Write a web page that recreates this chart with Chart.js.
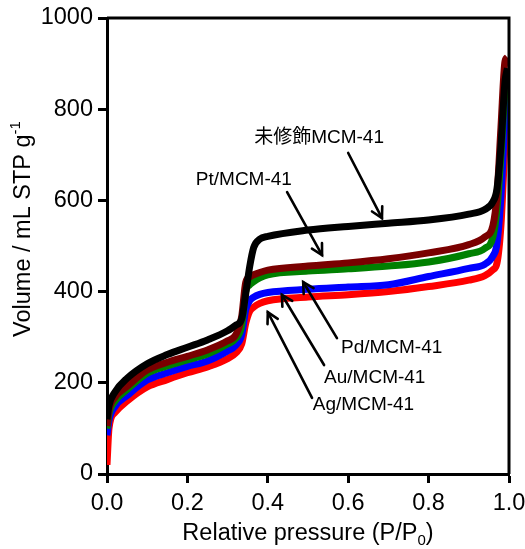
<!DOCTYPE html>
<html><head><meta charset="utf-8">
<script src="https://cdn.jsdelivr.net/npm/chart.js@4.4.1/dist/chart.umd.min.js"></script>
<style>html,body{margin:0;padding:0;background:#fff}#wrap{width:525px;height:549px}</style>
</head><body><div id="wrap"><canvas id="c" width="525" height="549"></canvas></div>
<script>
// Relative pressure P/P0 (shared grid)
const pressure = [0.0, 0.005, 0.02, 0.05, 0.1, 0.15, 0.2, 0.25, 0.3, 0.32, 0.335, 0.345, 0.355, 0.365, 0.38, 0.4, 0.5, 0.6, 0.7, 0.8, 0.9, 0.94, 0.96, 0.97, 0.98, 0.99, 0.996];
// Adsorbed volume (mL STP g-1)
const unmodified = [120, 150, 180, 210, 242, 262, 278, 294, 314, 326, 340, 395, 455, 497, 515, 521, 535, 543, 550, 557, 570, 580, 597, 625, 720, 860, 890];
const ptMCM = [105, 140, 168, 192, 228, 245, 258, 272, 292, 305, 345, 420, 432, 437, 442, 447, 456, 463, 472, 485, 503, 520, 545, 610, 760, 905, 914];
const pdMCM = [100, 132, 160, 185, 221, 237, 250, 263, 285, 297, 325, 400, 415, 422, 430, 437, 445, 450, 456, 465, 483, 495, 520, 580, 700, 840, 881];
const auMCM = [85, 118, 148, 172, 206, 222, 236, 248, 270, 282, 305, 360, 380, 388, 394, 398, 405, 410, 415, 433, 451, 460, 478, 505, 610, 780, 860];
const agMCM = [20, 100, 135, 160, 191, 207, 222, 235, 253, 265, 285, 330, 357, 366, 374, 380, 388, 393, 400, 411, 425, 435, 448, 462, 545, 720, 792];
const xTicks = [0.0, 0.2, 0.4, 0.6, 0.8, 1.0];
const yTicks = [0, 200, 400, 600, 800, 1000];
// Annotation labels: text, label x, label y, arrow tail x,y, arrow tip x,y (data units)
const labelTexts = ['未修飾MCM-41', 'Pt/MCM-41', 'Pd/MCM-41', 'Au/MCM-41', 'Ag/MCM-41'];
const labelX = [0.366, 0.221, 0.582, 0.540, 0.512];
const labelY = [737, 645, 276, 211, 151];
const arrowFromX = [0.600, 0.448, 0.572, 0.540, 0.510];
const arrowFromY = [704, 618, 298, 239, 167];
const arrowToX = [0.684, 0.535, 0.488, 0.435, 0.400];
const arrowToY = [561, 480, 421, 393, 355];

const FONT = '"Liberation Sans", Arial, "Noto Sans CJK JP", sans-serif';
const series = [
  {name:'未修飾MCM-41', v:unmodified, c:'#000000'},
  {name:'Pt/MCM-41', v:ptMCM, c:'#7a0000'},
  {name:'Pd/MCM-41', v:pdMCM, c:'#008000'},
  {name:'Au/MCM-41', v:auMCM, c:'#0000ff'},
  {name:'Ag/MCM-41', v:agMCM, c:'#ff0000'}
];

const decor = {
  id:'decor',
  afterDraw(chart){
    const {ctx, chartArea:a, scales:{x, y}} = chart;
    ctx.save();
    // top and right frame
    ctx.strokeStyle = '#000'; ctx.lineWidth = 3;
    ctx.beginPath();
    ctx.moveTo(a.left, a.top); ctx.lineTo(a.right, a.top); ctx.lineTo(a.right, a.bottom);
    ctx.stroke();
    // annotations
    ctx.fillStyle = '#000';
    ctx.font = '19px ' + FONT;
    ctx.textBaseline = 'middle'; ctx.textAlign = 'left';
    for (let i = 0; i < labelTexts.length; i++) {
      ctx.fillText(labelTexts[i], x.getPixelForValue(labelX[i]), y.getPixelForValue(labelY[i]));
      const x0 = x.getPixelForValue(arrowFromX[i]), y0 = y.getPixelForValue(arrowFromY[i]);
      const x1 = x.getPixelForValue(arrowToX[i]), y1 = y.getPixelForValue(arrowToY[i]);
      ctx.lineWidth = 2.6; ctx.lineCap = 'round';
      ctx.beginPath(); ctx.moveTo(x0, y0); ctx.lineTo(x1, y1); ctx.stroke();
      const ang = Math.atan2(y1 - y0, x1 - x0), L = 12, w = 0.5;
      ctx.beginPath();
      ctx.moveTo(x1 - L*Math.cos(ang - w), y1 - L*Math.sin(ang - w));
      ctx.lineTo(x1, y1);
      ctx.lineTo(x1 - L*Math.cos(ang + w), y1 - L*Math.sin(ang + w));
      ctx.stroke();
    }
    // x title with subscript
    ctx.textBaseline = 'alphabetic';
    const fs = 23.5;
    const main = 'Relative pressure (P/P', sub = '0', end = ')';
    ctx.font = fs + 'px ' + FONT;
    const wMain = ctx.measureText(main).width, wEnd = ctx.measureText(end).width;
    ctx.font = Math.round(fs*0.62) + 'px ' + FONT;
    const wSub = ctx.measureText(sub).width;
    const total = wMain + wSub + wEnd;
    let sx = (a.left + a.right)/2 - total/2, by = 540;
    ctx.font = fs + 'px ' + FONT; ctx.fillText(main, sx, by);
    ctx.font = Math.round(fs*0.62) + 'px ' + FONT; ctx.fillText(sub, sx + wMain, by + 5);
    ctx.font = fs + 'px ' + FONT; ctx.fillText(end, sx + wMain + wSub, by);
    // y title with superscript
    const ym = 'Volume / mL STP g', ys = '-1';
    ctx.font = fs + 'px ' + FONT;
    const wy = ctx.measureText(ym).width;
    ctx.font = Math.round(fs*0.62) + 'px ' + FONT;
    const wys = ctx.measureText(ys).width;
    ctx.translate(30, 229); ctx.rotate(-Math.PI/2);
    const tx = -(wy + wys)/2;
    ctx.font = fs + 'px ' + FONT; ctx.fillText(ym, tx, 0);
    ctx.font = Math.round(fs*0.62) + 'px ' + FONT; ctx.fillText(ys, tx + wy, -10);
    ctx.restore();
  }
};

new Chart(document.getElementById('c'), {
  type:'line',
  data:{datasets: series.map(s => ({
    label:s.name,
    data:s.v.map((v,i)=>({x:pressure[i], y:v})),
    borderColor:s.c, backgroundColor:s.c, borderWidth:7,
    pointRadius:0, cubicInterpolationMode:'monotone', fill:false
  }))},
  options:{
    responsive:false, animation:false, events:[],
    layout:{padding:{left:0, right:16, top:18, bottom:0}},
    plugins:{legend:{display:false}, tooltip:{enabled:false}},
    scales:{
      x:{type:'linear', min:0, max:1,
        afterFit(s){ s.height = 75; s.paddingLeft = 0; s.paddingRight = 0; },
        afterBuildTicks(s){ s.ticks = xTicks.map(v=>({value:v})); },
        grid:{drawOnChartArea:false, drawTicks:true, tickLength:9, tickWidth:3, tickColor:'#000'},
        border:{display:true, color:'#000', width:3},
        ticks:{color:'#000', padding:6, font:{family:FONT, size:23.5}, callback:v=>v.toFixed(1), maxRotation:0}
      },
      y:{type:'linear', min:0, max:1000,
        afterFit(s){ s.width = 107; s.paddingTop = 0; s.paddingBottom = 0; },
        afterBuildTicks(s){ s.ticks = yTicks.map(v=>({value:v})); },
        grid:{drawOnChartArea:false, drawTicks:true, tickLength:9, tickWidth:3, tickColor:'#000'},
        border:{display:true, color:'#000', width:3},
        ticks:{color:'#000', padding:5, font:{family:FONT, size:23.5}, callback:v=>String(v)}
      }
    }
  },
  plugins:[decor]
});
</script></body></html>
